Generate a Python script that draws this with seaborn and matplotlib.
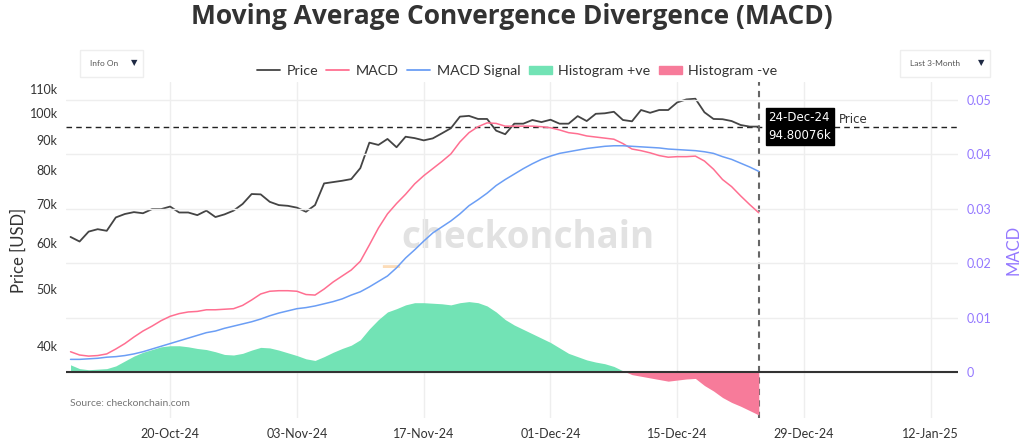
import numpy as np
import pandas as pd
import seaborn as sns
import matplotlib.pyplot as plt
from matplotlib.lines import Line2D
from matplotlib.patches import Patch, Rectangle
from matplotlib.ticker import NullLocator

# daily data, 09-Oct-24 .. 24-Dec-24
dates = pd.date_range("2024-10-09", "2024-12-24", freq="D")

# BTC price in thousands of USD
price_k = [
    61.4, 60.3, 62.7, 63.3, 62.9, 66.3, 67.2, 67.7, 67.4, 68.5,
    68.5, 69.2, 67.6, 67.6, 66.9, 68.1, 66.4, 67.1, 68.1, 69.9,
    72.7, 72.6, 70.5, 69.6, 69.4, 68.9, 67.8, 69.6, 75.8, 76.2,
    76.6, 77.1, 80.5, 89.0, 88.2, 90.3, 87.4, 91.1, 90.6, 89.8,
    90.5, 92.3, 94.2, 98.6, 98.9, 97.7, 97.7, 93.3, 92.0, 95.9,
    95.9, 97.3, 96.5, 97.4, 95.9, 95.9, 98.8, 96.9, 99.7, 99.9,
    100.5, 97.3, 96.8, 101.2, 100.1, 101.2, 101.2, 104.3, 105.5, 105.8,
    100.3, 97.7, 97.6, 96.9, 95.4, 94.8, 94.8,
]

macd = [
    0.0038, 0.0032, 0.0030, 0.0031, 0.0034, 0.0043, 0.0053, 0.0065, 0.0076, 0.0085,
    0.0095, 0.0103, 0.0108, 0.0111, 0.0112, 0.0115, 0.0115, 0.0116, 0.0117, 0.0123,
    0.0133, 0.0144, 0.0149, 0.0150, 0.0150, 0.0149, 0.0143, 0.0142, 0.0153, 0.0166,
    0.0177, 0.0188, 0.0204, 0.0234, 0.0265, 0.0291, 0.0310, 0.0327, 0.0346, 0.0361,
    0.0374, 0.0387, 0.0401, 0.0423, 0.0440, 0.0451, 0.0458, 0.0457, 0.0452, 0.0452,
    0.0452, 0.0452, 0.0451, 0.0449, 0.0445, 0.0440, 0.0438, 0.0434, 0.0432, 0.0430,
    0.0428, 0.0420, 0.0410, 0.0407, 0.0403, 0.0398, 0.0395, 0.0396, 0.0396, 0.0397,
    0.0388, 0.0373, 0.0354, 0.0341, 0.0324, 0.0308, 0.0293,
]

macd_signal = [
    0.0024, 0.0024, 0.0025, 0.0026, 0.0028, 0.0029, 0.0031, 0.0034, 0.0038, 0.0043,
    0.0048, 0.0053, 0.0058, 0.0063, 0.0068, 0.0073, 0.0076, 0.0081, 0.0085, 0.0089,
    0.0093, 0.0098, 0.0104, 0.0109, 0.0113, 0.0117, 0.0119, 0.0122, 0.0126, 0.0130,
    0.0135, 0.0142, 0.0148, 0.0157, 0.0167, 0.0177, 0.0192, 0.0210, 0.0225, 0.0241,
    0.0256, 0.0267, 0.0278, 0.0291, 0.0306, 0.0317, 0.0329, 0.0343, 0.0354, 0.0364,
    0.0374, 0.0383, 0.0391, 0.0397, 0.0402, 0.0405, 0.0408, 0.0411, 0.0413, 0.0415,
    0.0416, 0.0416, 0.0415, 0.0414, 0.0413, 0.0412, 0.0410, 0.0409, 0.0408, 0.0407,
    0.0405, 0.0402, 0.0396, 0.0391, 0.0384, 0.0377, 0.0369,
]

histogram = [
    0.0014, 0.0007, 0.0005, 0.0006, 0.0007, 0.0012, 0.0021, 0.0030, 0.0037, 0.0042,
    0.0047, 0.0049, 0.0049, 0.0047, 0.0044, 0.0042, 0.0038, 0.0033, 0.0032, 0.0035,
    0.0041, 0.0046, 0.0045, 0.0041, 0.0036, 0.0031, 0.0025, 0.0022, 0.0029, 0.0037,
    0.0044, 0.0050, 0.0060, 0.0080, 0.0097, 0.0111, 0.0117, 0.0124, 0.0128, 0.0128,
    0.0127, 0.0126, 0.0124, 0.0128, 0.0130, 0.0128, 0.0122, 0.0111, 0.0097, 0.0087,
    0.0079, 0.0071, 0.0063, 0.0055, 0.0045, 0.0035, 0.0029, 0.0023, 0.0019, 0.0016,
    0.0011, 0.0003, -0.0004, -0.0007, -0.0010, -0.0013, -0.0016, -0.0014, -0.0012, -0.0011,
    -0.0024, -0.0034, -0.0046, -0.0055, -0.0062, -0.0070, -0.0078,
]

x_ticks = ["2024-10-20", "2024-11-03", "2024-11-17", "2024-12-01",
           "2024-12-15", "2024-12-29", "2025-01-12"]
price_ticks = [40, 50, 60, 70, 80, 90, 100, 110]
macd_ticks = [0, 0.01, 0.02, 0.03, 0.04, 0.05]

df = pd.DataFrame({"date": dates, "price": price_k, "macd": macd,
                   "signal": macd_signal, "hist": histogram})

# colours
c_price = "#444444"
c_macd = "#ff6f91"
c_signal = "#6b9ef5"
c_pos = "#72e3b5"
c_neg = "#f77b9a"
c_purple = "#9478ff"
c_text = "#333333"

sns.set_style("white")
plt.rcParams["font.family"] = ["Lato", "DejaVu Sans"]

fig = plt.figure(figsize=(10.24, 4.47), dpi=100)
ax = fig.add_axes([66 / 1024, 1 - 418 / 447, (958 - 66) / 1024, (418 - 82) / 447])
ax2 = ax.twinx()

# price on a log axis (left)
sns.lineplot(data=df, x="date", y="price", ax=ax, color=c_price, linewidth=1.3)
ax.set_yscale("log")
ax.set_ylim(30.1, 113.0)
ax.set_yticks(price_ticks)
ax.set_yticklabels([f"{t}k" for t in price_ticks])
ax.yaxis.set_minor_locator(NullLocator())
ax.axhline(price_k[-1], color="#222222", linewidth=1.0, linestyle=(0, (4, 3)), zorder=1)

# watermark
ax.text(0.374, 0.50, "_", transform=ax.transAxes, fontsize=30, fontweight="bold",
        color="#fcdcb8", family="Open Sans", ha="right", va="center", zorder=0)
ax.text(0.376, 0.535, "checkonchain", transform=ax.transAxes, fontsize=26.5,
        fontweight="bold", color="#e2e2e2", family="Open Sans", ha="left",
        va="center", zorder=0)

# MACD (right axis)
ax2.fill_between(df["date"], df["hist"], 0, where=df["hist"] >= 0, interpolate=True,
                 color=c_pos, linewidth=0, zorder=1)
ax2.fill_between(df["date"], df["hist"], 0, where=df["hist"] <= 0, interpolate=True,
                 color=c_neg, linewidth=0, zorder=1)
sns.lineplot(data=df, x="date", y="macd", ax=ax2, color=c_macd, linewidth=1.1, zorder=3)
sns.lineplot(data=df, x="date", y="signal", ax=ax2, color=c_signal, linewidth=1.1, zorder=3)
ax2.axhline(0, color="#333333", linewidth=1.5, zorder=2)
ax2.set_ylim(-0.00836, 0.0533)
ax2.set_yticks(macd_ticks)
ax2.set_yticklabels(["0", "0.01", "0.02", "0.03", "0.04", "0.05"])

# x axis ("Last 3-Month" window)
ax.set_xlim(pd.Timestamp("2024-10-08 12:00"), pd.Timestamp("2025-01-15"))
tick_dates = pd.to_datetime(x_ticks)
ax.set_xticks(tick_dates)
ax.set_xticklabels([d.strftime("%d-%b-%y") for d in tick_dates])

# hover spike on the last point
ax.axvline(dates[-1], color="#666666", linewidth=1.5, linestyle=(0, (3, 2.5)), zorder=4)

# grids, spines, ticks
ax.grid(axis="x", color="#eeeeee", linewidth=1)
ax.grid(axis="y", visible=False)
ax2.grid(axis="y", color="#eeeeee", linewidth=1)
ax2.grid(axis="x", visible=False)
ax.set_axisbelow(True)
ax2.set_axisbelow(True)
for a in (ax, ax2):
    for s in a.spines.values():
        s.set_visible(False)
ax.tick_params(axis="both", length=0, labelsize=9, colors=c_text)
ax.tick_params(axis="x", pad=7)
ax.tick_params(axis="y", pad=6)
ax2.tick_params(axis="y", length=0, labelsize=9, colors=c_purple, pad=6)

ax.set_xlabel("")
ax.set_ylabel("Price [USD]", fontsize=12, color=c_text, labelpad=2)
ax2.set_ylabel("MACD", fontsize=12, color=c_purple, labelpad=10)

# last value label
ax.annotate(f"{dates[-1].strftime('%d-%b-%y')}\n94.80076k", xy=(dates[-1], price_k[-1]),
            xytext=(7, 0), textcoords="offset points", ha="left", va="center",
            fontsize=8.5, color="white", family="DejaVu Sans", linespacing=1.5,
            bbox=dict(boxstyle="square,pad=0.25", fc="black", ec="black"), zorder=6)
ax.annotate("Price", xy=(dates[-1], price_k[-1]), xytext=(58, 5),
            textcoords="offset points", ha="left", va="center", fontsize=8.5,
            color=c_text, family="DejaVu Sans", zorder=6)

# source note
ax.text(0.005, 0.03, "Source: checkonchain.com", transform=ax.transAxes,
        fontsize=7.5, color="#777777", ha="left", va="bottom")

# title
fig.text(0.5, 1 - 16 / 447, "Moving Average Convergence Divergence (MACD)",
         ha="center", va="center", fontsize=19, fontweight="bold", color=c_text,
         family="Open Sans")

# legend
handles = [
    Line2D([], [], color=c_price, linewidth=1.3),
    Line2D([], [], color=c_macd, linewidth=1.3),
    Line2D([], [], color=c_signal, linewidth=1.3),
    Patch(color=c_pos),
    Patch(color=c_neg),
]
labels = ["Price", "MACD", "MACD Signal", "Histogram +ve", "Histogram -ve"]
fig.legend(handles, labels, loc="center", bbox_to_anchor=(0.505, 1 - 71 / 447), ncol=5,
           frameon=False, fontsize=10.3, handlelength=1.6, handleheight=0.55,
           handletextpad=0.45, columnspacing=0.6, labelcolor=c_text)

# dropdown menus of the original page
for x0, x1 in ((80, 143), (900, 990)):
    fig.patches.append(Rectangle((x0 / 1024, 1 - 77 / 447), (x1 - x0) / 1024, 27 / 447,
                                 transform=fig.transFigure, fc="white", ec="#eeeeee",
                                 linewidth=1))
fig.text(90 / 1024, 1 - 63 / 447, "Info On", fontsize=6, color="#555555", va="center")
fig.text(131 / 1024, 1 - 63 / 447, "▼", fontsize=6, color="#1f2a44", va="center",
         family="DejaVu Sans")
fig.text(910 / 1024, 1 - 63 / 447, "Last 3-Month", fontsize=6, color="#555555", va="center")
fig.text(978 / 1024, 1 - 63 / 447, "▼", fontsize=6, color="#1f2a44", va="center",
         family="DejaVu Sans")

fig.savefig("out.png", dpi=100, facecolor="white")
